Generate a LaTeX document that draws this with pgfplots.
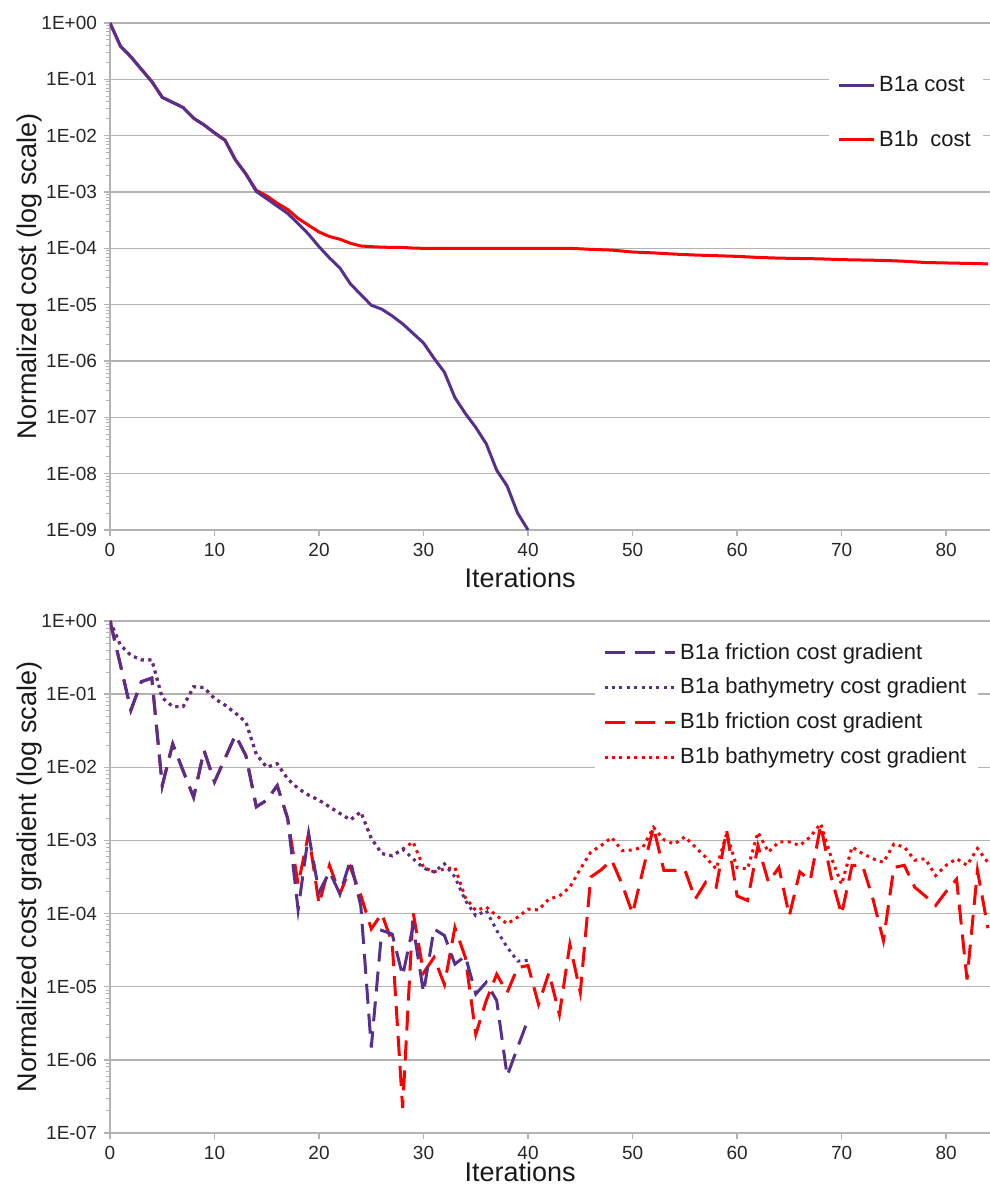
\documentclass[border=0pt]{standalone}
\usepackage{fontspec}
\setmainfont{Liberation Sans}
\usepackage{pgfplots}
\pgfplotsset{compat=1.18}
\definecolor{cpurple}{RGB}{85,48,141}
\definecolor{cred}{RGB}{255,0,0}
\definecolor{cgrid}{RGB}{179,179,179}
\pgfplotsset{
  myaxis/.style={
    scale only axis, width=440pt,
    xmin=0, xmax=84.2,
    xtick={0,10,20,30,40,50,60,70,80},
    axis x line*=bottom, axis y line*=left,
    axis line style={cgrid, line width=0.7pt},
    ymajorgrids, grid style={cgrid, line width=0.7pt},
    major tick style={cgrid, line width=0.7pt},
    minor tick style={cgrid, line width=0.5pt},
    tick align=outside,
    major tick length=3pt, minor tick length=2pt,
    ticklabel style={font=\fontsize{9.5}{11}\selectfont, text=black!85},
    /pgf/number format/assume math mode=true,
    xlabel={Iterations},
    ylabel style={font=\fontsize{13.5}{15}\selectfont, text=black!90, at={(axis description cs:-0.0909,0.5)}, anchor=center},
    legend cell align=left,
  },
  costline/.style={line width=1.5pt},
  fric/.style={line width=1.5pt, dash pattern=on 10pt off 5pt},
  bath/.style={line width=1.5pt, dash pattern=on 1.5pt off 2.2pt},
}
\begin{document}
\begin{tikzpicture}
\useasboundingbox (-55pt,-28pt) rectangle (440pt,566.5pt);
% ---------------- top axis ----------------
\begin{axis}[myaxis, ymode=log,
  at={(0,301.5pt)}, anchor=south west, height=253.5pt,
  ymin=1e-9, ymax=1,
  ytick={1e-9,1e-8,1e-7,1e-6,1e-5,1e-4,1e-3,1e-2,1e-1,1},
  yticklabels={1E-09,1E-08,1E-07,1E-06,1E-05,1E-04,1E-03,1E-02,1E-01,1E+00},
  minor ytick={2e-9,3e-9,4e-9,5e-9,6e-9,7e-9,8e-9,9e-9,
    2e-8,3e-8,4e-8,5e-8,6e-8,7e-8,8e-8,9e-8,
    2e-7,3e-7,4e-7,5e-7,6e-7,7e-7,8e-7,9e-7,
    2e-6,3e-6,4e-6,5e-6,6e-6,7e-6,8e-6,9e-6,
    2e-5,3e-5,4e-5,5e-5,6e-5,7e-5,8e-5,9e-5,
    2e-4,3e-4,4e-4,5e-4,6e-4,7e-4,8e-4,9e-4,
    2e-3,3e-3,4e-3,5e-3,6e-3,7e-3,8e-3,9e-3,
    2e-2,3e-2,4e-2,5e-2,6e-2,7e-2,8e-2,9e-2,
    0.2,0.3,0.4,0.5,0.6,0.7,0.8,0.9},
  ylabel={Normalized cost (log scale)},
  xlabel style={font=\fontsize{13.5}{15}\selectfont, text=black!90, at={(axis description cs:0.466,-0.0947)}, anchor=center},
  legend style={at={(axis description cs:0.9045,0.8235)}, anchor=center, draw=none, fill=white,
    font=\fontsize{11}{13}\selectfont, text=black!90, row sep=14pt, inner xsep=4pt, inner ysep=6pt},
  legend image code/.code={\draw[#1] (0pt,0pt) -- (17.5pt,0pt);},
]
\addplot[cred, costline, forget plot] coordinates {
(0,1)(1,0.389)(2,0.251)(3,0.151)(4,0.0912)(5,0.0479)(6,0.0389)(7,0.0316)(8,0.0204)(9,0.0155)(10,0.0112)
(11,0.00832)(12,0.00372)(13,0.00209)(14,1.07e-3)(15,8.51e-4)(16,6.31e-4)(17,4.9e-4)(18,3.39e-4)(19,2.57e-4)
(20,1.95e-4)(21,1.62e-4)(22,1.45e-4)(23,1.23e-4)(24,1.1e-4)(25,1.07e-4)(26,1.05e-4)(27,1.04e-4)(28,1.04e-4)
(29,1.01e-4)(30,1.0e-4)(32,1.0e-4)(34,1.0e-4)(36,1.0e-4)(38,1.0e-4)(40,1.0e-4)(42,1.0e-4)(44,1.0e-4)
(46,9.6e-5)(48,9.3e-5)(50,8.6e-5)(52,8.3e-5)(54,7.9e-5)(56,7.6e-5)(58,7.4e-5)(60,7.2e-5)(62,6.9e-5)
(64,6.7e-5)(66,6.6e-5)(68,6.5e-5)(70,6.3e-5)(72,6.2e-5)(74,6.1e-5)(76,5.9e-5)(78,5.6e-5)(80,5.5e-5)
(82,5.4e-5)(84,5.3e-5)
};
\addplot[cpurple, costline] coordinates {
(0,1)(1,0.389)(2,0.251)(3,0.151)(4,0.0912)(5,0.0479)(6,0.0389)(7,0.0316)(8,0.0204)(9,0.0155)(10,0.0112)
(11,0.00832)(12,0.00372)(13,0.00209)(14,0.00102)(15,7.59e-4)(16,5.62e-4)(17,4.17e-4)(18,2.75e-4)(19,1.78e-4)
(20,1.07e-4)(21,6.76e-5)(22,4.47e-5)(23,2.34e-5)(24,1.51e-5)(25,9.77e-6)(26,8.32e-6)(27,6.31e-6)(28,4.57e-6)
(29,3.09e-6)(30,2.09e-6)(31,1.12e-6)(32,6.31e-7)(33,2.24e-7)(34,1.17e-7)(35,6.61e-8)(36,3.39e-8)(37,1.15e-8)
(38,6.03e-9)(39,2.0e-9)(40,1e-9)
};
\addlegendentry{B1a cost}
\addlegendimage{cred, costline}
\addlegendentry{B1b\ \ cost}
\end{axis}
% ---------------- bottom axis ----------------
\begin{axis}[myaxis, ymode=log,
  at={(0,0)}, anchor=south west, height=256pt,
  ymin=1e-7, ymax=1,
  ytick={1e-7,1e-6,1e-5,1e-4,1e-3,1e-2,1e-1,1},
  yticklabels={1E-07,1E-06,1E-05,1E-04,1E-03,1E-02,1E-01,1E+00},
  minor ytick={
    2e-7,3e-7,4e-7,5e-7,6e-7,7e-7,8e-7,9e-7,
    2e-6,3e-6,4e-6,5e-6,6e-6,7e-6,8e-6,9e-6,
    2e-5,3e-5,4e-5,5e-5,6e-5,7e-5,8e-5,9e-5,
    2e-4,3e-4,4e-4,5e-4,6e-4,7e-4,8e-4,9e-4,
    2e-3,3e-3,4e-3,5e-3,6e-3,7e-3,8e-3,9e-3,
    2e-2,3e-2,4e-2,5e-2,6e-2,7e-2,8e-2,9e-2,
    0.2,0.3,0.4,0.5,0.6,0.7,0.8,0.9},
  ylabel={Normalized cost gradient (log scale)},
  xlabel style={font=\fontsize{13.5}{15}\selectfont, text=black!90, at={(axis description cs:0.466,-0.076)}, anchor=center},
  legend style={at={(axis description cs:0.769,0.836)}, anchor=center, draw=none, fill=white,
    font=\fontsize{11}{13}\selectfont, text=black!90, row sep=4pt, inner xsep=4pt, inner ysep=4pt},
  legend image code/.code={\draw[#1] (0pt,0pt) -- (35pt,0pt);},
]
% B1b friction
\addplot[cred, fric, forget plot] coordinates {
(0,1)(1,0.251)(2,0.0603)(3,0.148)(4,0.166)(5,0.00562)(6,0.0209)(7,0.0089)(8,0.00389)(9,0.017)(10,0.00631)
(11,0.0132)(12,0.0275)(13,0.0145)(14,0.00288)(15,0.00355)(16,0.00562)(17,0.002)(18,2.51e-4)(19,0.00123)
(20,1.35e-4)(21,4.57e-4)(22,1.86e-4)(23,4.27e-4)(24,1.78e-4)(25,6.17e-5)(26,1e-4)(27,3.98e-5)(28,2.19e-7)
(29,1.05e-4)(30,1.55e-5)(31,2.51e-5)(32,1.07e-5)(33,6.46e-5)(34,2.51e-5)(35,2.24e-6)(36,6.46e-6)(37,1.48e-5)
(38,8.32e-6)(39,1.82e-5)(40,1.95e-5)(41,5.75e-6)(42,1.55e-5)(43,4.17e-6)(44,3.8e-5)(45,8.32e-6)(46,3.16e-4)
(47,3.98e-4)(48,5.37e-4)(49,2.51e-4)(50,1e-4)(51,3.98e-4)(52,0.00151)(53,3.89e-4)(54,3.89e-4)(55,3.98e-4)
(56,1.58e-4)(57,2.69e-4)(58,2.29e-4)(59,0.00138)(60,1.74e-4)(61,1.51e-4)(62,8.51e-4)(63,2.69e-4)(64,4.27e-4)
(65,9.33e-5)(66,3.72e-4)(67,2.82e-4)(68,0.00162)(69,3.16e-4)(70,9.77e-5)(71,4.57e-4)(72,4.57e-4)(73,1.58e-4)
(74,4.27e-5)(75,4.27e-4)(76,4.57e-4)(77,2.29e-4)(78,1.74e-4)(79,1.29e-4)(80,2.0e-4)(81,2.95e-4)(82,1.26e-5)
(83,3.89e-4)(84,6.31e-5)
};
% B1b bathymetry
\addplot[cred, bath, forget plot] coordinates {
(0,1)(1,0.468)(2,0.339)(3,0.295)(4,0.295)(5,0.0891)(6,0.0676)(7,0.0676)(8,0.126)(9,0.123)(10,0.0871)
(11,0.0708)(12,0.055)(13,0.0417)(14,0.0151)(15,0.01)(16,0.0112)(17,0.00692)(18,0.00513)(19,0.00417)
(20,0.00355)(21,0.00288)(22,0.00234)(23,0.00191)(24,0.00245)(25,0.00107)(26,6.61e-4)(27,6.17e-4)
(28,7.59e-4)(29,9.55e-4)(30,4.27e-4)(31,3.72e-4)(32,4.07e-4)(33,4.27e-4)(34,1.66e-4)(35,1.1e-4)
(36,1.23e-4)(37,9.33e-5)(38,7.24e-5)(39,8.91e-5)(40,1.15e-4)(41,1.12e-4)(42,1.58e-4)(43,1.74e-4)
(44,2.29e-4)(45,4.07e-4)(46,6.92e-4)(47,8.51e-4)(48,0.0011)(49,7.24e-4)(50,7.41e-4)(51,8.13e-4)
(52,0.00151)(53,0.00102)(54,8.91e-4)(55,0.00112)(56,8.13e-4)(57,5.89e-4)(58,4.07e-4)(59,0.00123)
(60,4.27e-4)(61,4.07e-4)(62,0.00129)(63,6.92e-4)(64,9.55e-4)(65,9.55e-4)(66,8.51e-4)(67,0.00112)
(68,0.0017)(69,5.89e-4)(70,2.51e-4)(71,8.13e-4)(72,6.61e-4)(73,5.62e-4)(74,5.01e-4)(75,8.91e-4)
(76,8.13e-4)(77,5.37e-4)(78,5.62e-4)(79,3.31e-4)(80,4.57e-4)(81,5.62e-4)(82,4.57e-4)(83,7.76e-4)(84,5.01e-4)
};
% B1a friction
\addplot[cpurple, fric] coordinates {
(0,1)(1,0.251)(2,0.0603)(3,0.148)(4,0.166)(5,0.00562)(6,0.0209)(7,0.0089)(8,0.00389)(9,0.017)(10,0.00631)
(11,0.0132)(12,0.0275)(13,0.0145)(14,0.00288)(15,0.00355)(16,0.00562)(17,0.002)(18,1.12e-4)(19,0.00123)
(20,1.95e-4)(21,3.72e-4)(22,1.86e-4)(23,5.37e-4)(24,1.26e-4)(25,1.48e-6)(26,5.89e-5)(27,5.25e-5)(28,1.41e-5)
(29,6.76e-5)(30,8.32e-6)(31,6.17e-5)(32,5.01e-5)(33,2.04e-5)(34,2.63e-5)(35,7.94e-6)(36,1.15e-5)(37,6.46e-6)
(38,6.03e-7)(39,1.48e-6)(40,3.55e-6)
};
\addlegendentry{B1a friction cost gradient}
% B1a bathymetry
\addplot[cpurple, bath] coordinates {
(0,1)(1,0.468)(2,0.339)(3,0.295)(4,0.295)(5,0.0891)(6,0.0676)(7,0.0676)(8,0.126)(9,0.123)(10,0.0871)
(11,0.0708)(12,0.055)(13,0.0417)(14,0.0151)(15,0.01)(16,0.0112)(17,0.00692)(18,0.00513)(19,0.00417)
(20,0.00355)(21,0.00288)(22,0.00234)(23,0.00191)(24,0.00245)(25,0.00107)(26,6.61e-4)(27,6.17e-4)
(28,7.59e-4)(29,5.62e-4)(30,4.17e-4)(31,3.72e-4)(32,4.79e-4)(33,3.16e-4)(34,1.51e-4)(35,9.33e-5)
(36,1.1e-4)(37,5.89e-5)(38,3.47e-5)(39,2.24e-5)(40,2.29e-5)
};
\addlegendentry{B1a bathymetry cost gradient}
\addlegendimage{cred, fric}
\addlegendentry{B1b friction cost gradient}
\addlegendimage{cred, bath}
\addlegendentry{B1b bathymetry cost gradient}
\end{axis}
\end{tikzpicture}
\end{document}
